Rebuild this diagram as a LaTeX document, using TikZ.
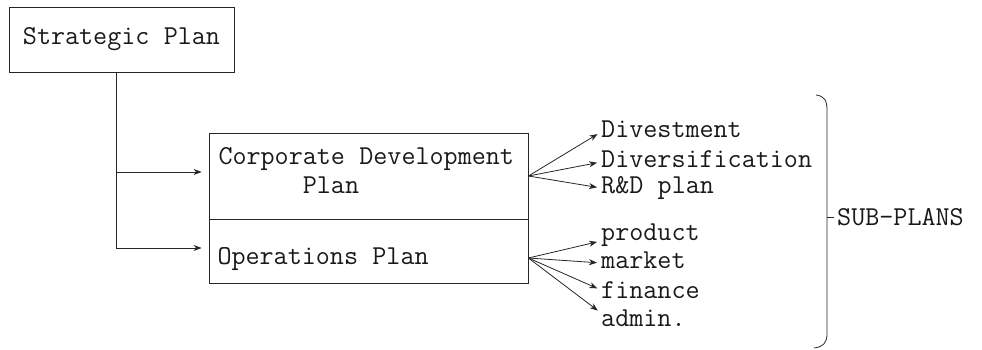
\documentclass[tikz,border=0pt]{standalone}
\usetikzlibrary{arrows.meta}
\newcommand{\ttsetup}{\fontsize{27.3pt}{29pt}\selectfont\ttfamily\fontdimen2\font=0.525em\fontdimen3\font=0pt\fontdimen4\font=0pt}
\newcommand{\ttsp}{\spaceskip=0.525em\relax\xspaceskip=0.525em\relax}
\begin{document}
\begin{tikzpicture}[x=1pt,y=-1pt,
  ink/.style={line width=0.8pt,draw=black!85},
  tt/.style={font=\ttsetup,text=black!90},
  box/.style={ink,rectangle,tt},
  item/.style={tt,inner sep=0pt,anchor=west,text height=17pt,text depth=6pt},
  arr/.style={ink,-{Stealth[length=8pt,width=6pt,inset=2.5pt]}},
  fan/.style={ink,-{Stealth[length=8pt,width=6pt,inset=2.5pt]},shorten >=4pt}]
\useasboundingbox (0,0) rectangle (982,350);

% main boxes
\node[box,minimum width=225pt,minimum height=65pt,inner sep=0pt] (sp) at (121.5,39.5) {Strategic Plan};
\node[box,minimum height=86pt,inner xsep=5.5pt,inner ysep=0pt,text width=308pt,align=left] (cdp) at (368.5,176)
  {\ttsp\hspace*{4pt}Corporate Development\\\hspace*{4pt}\phantom{xxxxxx}Plan\rule[-11pt]{0pt}{11pt}};
\node[box,minimum height=64pt,inner xsep=5.5pt,inner ysep=0pt,text width=308pt,align=left] (ops) at (368.5,251)
  {\ttsp\hspace*{3pt}\rule{0pt}{34pt}Operations Plan};

% trunk and branches
\coordinate (br1) at (116,172);
\coordinate (br2) at (116,248);
\draw[ink] (sp.south -| br1) -- (br2);
\draw[arr] (br1) -- ([xshift=-7pt]cdp.west |- br1);
\draw[arr] (br2) -- ([xshift=-7pt]ops.west |- br2);

% sub-plan items
\node[item] (dvs) at (601,132) {Divestment};
\node[item] (dvf) at (601,162) {Diversification};
\node[item] (rnd) at (601,188) {R\&D plan};
\node[item] (prd) at (601,235) {product};
\node[item] (mkt) at (601,263) {market};
\node[item] (fin) at (601,293) {finance};
\node[item] (adm) at (601,321) {admin.};

% upper fan
\draw[fan] (cdp.east) -- (dvs.west);
\draw[fan] (cdp.east) -- (dvf.west);
\draw[fan] (cdp.east) -- (rnd.west);

% lower fan
\coordinate (opsout) at ([yshift=-7pt]ops.east);
\draw[fan] (opsout) -- ([yshift=-6pt]prd.west);
\draw[fan] (opsout) -- (mkt.west);
\draw[fan] (opsout) -- ([yshift=3pt]fin.west);
\draw[fan] (opsout) -- ([yshift=8pt]adm.west);

% brace
\coordinate (bmid) at (827,217);
\draw[ink] (816,95) .. controls (824,96) and (827,100) .. (827,110)
  -- (827,334) .. controls (827,343) and (823,347) .. (814,348);
\node[tt,inner sep=0pt,anchor=west] (sub) at (837,217) {SUB-PLANS};
\draw[ink] (bmid) -- ([xshift=-3pt]sub.west);
\end{tikzpicture}
\end{document}
